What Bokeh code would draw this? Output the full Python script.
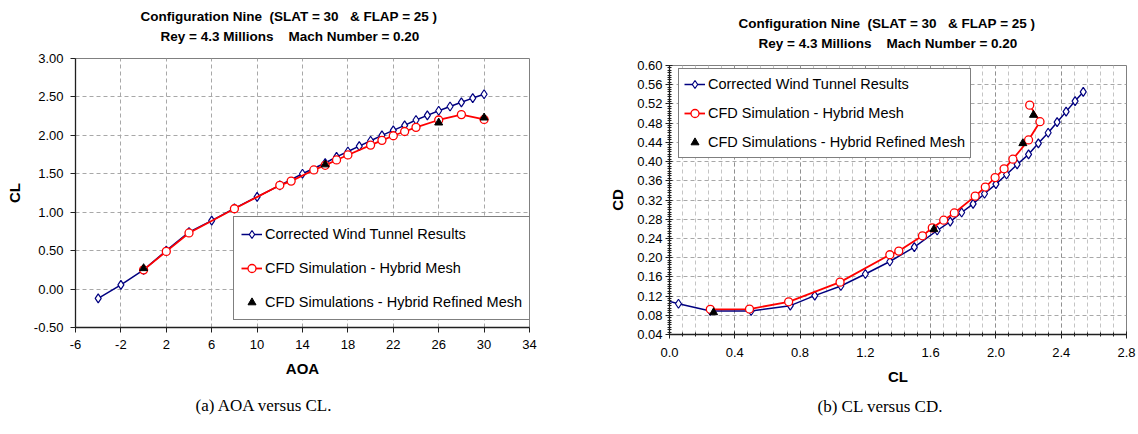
from bokeh.plotting import figure
from bokeh.models import FixedTicker, Title, Legend, LegendItem, PrintfTickFormatter
from bokeh.layouts import row, column
from bokeh.embed import file_html
from bokeh.resources import INLINE

# ---------------- data ----------------
aoa_wt = [-4, -2, 0, 2, 4, 6, 8, 10, 12, 14, 16, 17, 18, 19, 20, 21, 22, 23, 24, 25, 26, 27, 28, 29, 30]
cl_wt = [-0.12, 0.055, 0.25, 0.50, 0.74, 0.89, 1.05, 1.20, 1.35, 1.50, 1.64, 1.72, 1.79, 1.86, 1.93,
         2.00, 2.065, 2.13, 2.20, 2.26, 2.32, 2.375, 2.43, 2.485, 2.535]
cd_wt = [0.120, 0.104, 0.089, 0.089, 0.100, 0.121, 0.141, 0.166, 0.192, 0.222, 0.2565, 0.275, 0.294,
         0.312, 0.333, 0.353, 0.373, 0.394, 0.415, 0.438, 0.460, 0.482, 0.504, 0.526, 0.545]

aoa_cfd = [0, 2, 4, 8, 12, 13, 15, 16, 17, 18, 20, 21, 22, 23, 24, 26, 28, 30]
cl_cfd = [0.25, 0.49, 0.73, 1.045, 1.35, 1.405, 1.55, 1.61, 1.68, 1.745, 1.873, 1.935, 1.995, 2.05,
          2.104, 2.20, 2.27, 2.207]
cd_cfd = [0.0925, 0.093, 0.108, 0.149, 0.206, 0.2136, 0.2455, 0.262, 0.278, 0.293, 0.328, 0.347,
          0.3666, 0.385, 0.405, 0.445, 0.483, 0.5175]

aoa_ref = [0, 16, 26, 30]
cl_ref = [0.27, 1.62, 2.165, 2.23]
cd_ref = [0.086, 0.259, 0.438, 0.497]

aoa_ticks = [-6, -2, 2, 6, 10, 14, 18, 22, 26, 30, 34]
cl_ticks = [-0.5, 0.0, 0.5, 1.0, 1.5, 2.0, 2.5, 3.0]
clx_ticks = [0.0, 0.4, 0.8, 1.2, 1.6, 2.0, 2.4, 2.8]
clx_minor = [round(0.08 * i, 2) for i in range(36)]
cd_ticks = [0.04, 0.08, 0.12, 0.16, 0.20, 0.24, 0.28, 0.32, 0.36, 0.40, 0.44, 0.48, 0.52, 0.56, 0.60]
cd_minor = [round(0.04 + 0.005 * i, 3) for i in range(113)]

NB = "\u00a0"
title1 = "Configuration Nine " + NB + "(SLAT = 30 " + NB * 2 + "& FLAP = 25 )"
title2 = "Rey = 4.3 Millions " + NB * 3 + "Mach Number = 0.20"
lab_wt = "Corrected Wind Tunnel Results"
lab_cfd = "CFD Simulation - Hybrid Mesh"
lab_ref = "CFD Simulations - Hybrid Refined Mesh"

FONT = "Liberation Sans"
BLUE = "#000080"
RED = "#ff0000"


def style(p, xlabel, ylabel, yfmt, xfmt):
    p.outline_line_color = "#808080"
    p.outline_line_width = 1
    for ax in (p.xaxis[0], p.yaxis[0]):
        ax.axis_line_color = "#202020"
        ax.axis_line_width = 1.3
        ax.major_tick_line_color = "#202020"
        ax.minor_tick_line_color = None
        ax.major_label_text_font = FONT
        ax.major_label_text_font_size = "13px"
        ax.major_label_text_color = "#000000"
        ax.axis_label_text_font = FONT
        ax.axis_label_text_font_size = "15px"
        ax.axis_label_text_font_style = "bold"
        ax.axis_label_text_color = "#000000"
    p.xaxis.axis_label = xlabel
    p.yaxis.axis_label = ylabel
    p.yaxis.formatter = PrintfTickFormatter(format=yfmt)
    p.xaxis.formatter = PrintfTickFormatter(format=xfmt)
    p.grid.grid_line_color = "#a8a8a8"
    p.grid.grid_line_dash = "4 3"
    p.grid.grid_line_width = 1


def add_titles(p, off1, off2, caption, cap_offset, cap_standoff):
    # panels above are stacked outward from the frame: spacer, line 2, line 1
    spacer = Title(text=NB, align="left", text_font=FONT, text_font_size="2px",
                   text_color="#ffffff", standoff=9)
    t2 = Title(text=title2, align="left", offset=off2, text_font=FONT, text_font_size="13.5px",
               text_font_style="bold", text_color="#000000", standoff=3)
    t1 = Title(text=title1, align="left", offset=off1, text_font=FONT, text_font_size="13.5px",
               text_font_style="bold", text_color="#000000", standoff=3)
    p.add_layout(spacer, "above")
    p.add_layout(t2, "above")
    p.add_layout(t1, "above")
    cap = Title(text=caption, align="left", offset=cap_offset, text_font="Liberation Serif",
                text_font_size="17px", text_font_style="normal", text_color="#000000",
                standoff=cap_standoff)
    p.add_layout(cap, "below")


def make_legend(p, items, loc, pad, spacing):
    leg = Legend(items=items, location=loc, padding=pad, spacing=spacing, margin=0,
                 glyph_width=21, glyph_height=20, label_height=20, label_standoff=3,
                 label_text_font=FONT, label_text_font_size="14.5px", label_text_color="#000000",
                 border_line_color="#000000", border_line_width=1, background_fill_color="white",
                 background_fill_alpha=1.0)
    p.add_layout(leg)


# ---------------- (a) AOA vs CL ----------------
p1 = figure(width=569, height=434, x_range=(-6, 34), y_range=(-0.5, 3.0), title=None,
            output_backend="svg", toolbar_location=None,
            min_border_left=75, min_border_right=40, min_border_top=58, min_border_bottom=107)
style(p1, "AOA", "CL", "%.2f", "%d")
p1.xaxis.ticker = FixedTicker(ticks=aoa_ticks)
p1.yaxis.ticker = FixedTicker(ticks=cl_ticks)
for ax in (p1.xaxis[0], p1.yaxis[0]):
    ax.major_tick_out = 5
    ax.major_tick_in = 0
    ax.major_label_standoff = 7
    ax.axis_label_standoff = 8

b1l = p1.line(aoa_wt, cl_wt, line_color=BLUE, line_width=1.5)
b1s = p1.scatter(aoa_wt, cl_wt, marker="diamond", size=9, line_color=BLUE, fill_color="white", line_width=1.2)
r1l = p1.line(aoa_cfd, cl_cfd, line_color=RED, line_width=1.8)
r1s = p1.scatter(aoa_cfd, cl_cfd, marker="circle", size=8, line_color=RED, fill_color="white", line_width=1.3)
k1s = p1.scatter(aoa_ref, cl_ref, marker="triangle", size=8, line_color="black", fill_color="black")
make_legend(p1, [LegendItem(label=lab_wt, renderers=[b1l, b1s]),
                 LegendItem(label=lab_cfd, renderers=[r1l, r1s]),
                 LegendItem(label=lab_ref, renderers=[k1s])], (158, 7), 7, 14)
add_titles(p1, 65, 85, "(a)  AOA versus CL.", 120, 28)

# ---------------- (b) CL vs CD ----------------
p2 = figure(width=569, height=434, x_range=(0, 2.8), y_range=(0.04, 0.60), title=None,
            output_backend="svg", toolbar_location=None,
            min_border_left=100, min_border_right=12, min_border_top=65, min_border_bottom=100)
style(p2, "CL", "CD", "%.2f", "%.1f")
p2.xaxis.ticker = FixedTicker(ticks=clx_ticks, minor_ticks=clx_minor)
p2.yaxis.ticker = FixedTicker(ticks=cd_ticks, minor_ticks=cd_minor)
for ax in (p2.xaxis[0], p2.yaxis[0]):
    ax.major_tick_out = 4
    ax.major_tick_in = 3
    ax.minor_tick_line_color = "#202020"
    ax.minor_tick_out = 2
    ax.minor_tick_in = 2
    ax.axis_label_standoff = 8
p2.xaxis.major_label_standoff = 9
p2.yaxis.major_label_standoff = 3
p2.xgrid.grid_line_color = "#909090"
p2.xgrid.minor_grid_line_color = "#c4c4c4"
p2.xgrid.minor_grid_line_dash = "4 3"

b2l = p2.line(cl_wt, cd_wt, line_color=BLUE, line_width=1.5)
b2s = p2.scatter(cl_wt, cd_wt, marker="diamond", size=9, line_color=BLUE, fill_color="white", line_width=1.2)
r2l = p2.line(cl_cfd, cd_cfd, line_color=RED, line_width=1.8)
r2s = p2.scatter(cl_cfd, cd_cfd, marker="circle", size=8, line_color=RED, fill_color="white", line_width=1.3)
k2s = p2.scatter(cl_ref, cd_ref, marker="triangle", size=8, line_color="black", fill_color="black")
make_legend(p2, [LegendItem(label=lab_wt, renderers=[b2l, b2s]),
                 LegendItem(label=lab_cfd, renderers=[r2l, r2s]),
                 LegendItem(label=lab_ref, renderers=[k2s])], (9, 176), 5, 9)
add_titles(p2, 69, 89, "(b)  CL versus CD.", 148, 14)

layout = row(column(p1), column(p2))
open("out.html", "w").write(file_html(layout, INLINE))
